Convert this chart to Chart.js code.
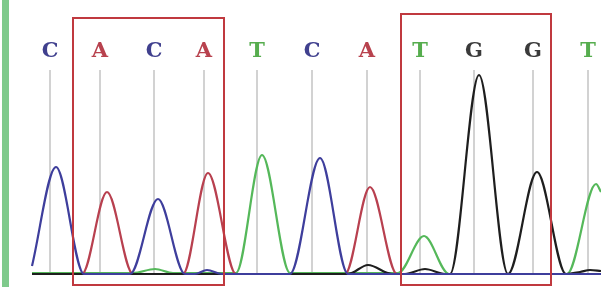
<!DOCTYPE html>
<html>
<head>
<meta charset="utf-8">
<script src="https://cdn.jsdelivr.net/npm/chart.js@4/dist/chart.umd.min.js"></script>
<style>
html,body{margin:0;padding:0;background:#fff;}
#wrap{position:relative;width:601px;height:287px;}
</style>
</head>
<body>
<div id="wrap"><canvas id="c"></canvas></div>
<script>
// Base calls
const baseLetters = ['C','A','C','A','T','C','A','T','G','G','T'];
const basePositions = [50,100,154,204,257,312,367,420,474,533,588];
// Highlighted regions (scan units)
const highlightStart = [73,401];
const highlightEnd = [224,551];

// Trace for C (blue)
const traceC_x = [32,56,84,130,158,185,195,207,222,290,320,348,601];
const traceC_y = [8,107,0,0,75,0,0,4,0,0,116,0,0];
// Trace for A (red)
const traceA_x = [32,82,107,133,183,208,236,345,370,397,601];
const traceA_y = [0,0,82,0,0,101,0,0,87,0,0];
// Trace for T (green)
const traceT_x = [32,133,155,173,236,262,290,398,424,449,567,596,601];
const traceT_y = [1,1,5,1,1,119,1,1,38,0,0,90,82];
// Trace for G (black)
const traceG_x = [32,348,368,392,405,425,445,450,479,508,537,566,580,590,601];
const traceG_y = [0,0,9,0,0,5,0,0,199,0,102,0,2,4,3];

const letterColors = {C:'#40408e',A:'#b8424e',T:'#56ad4e',G:'#3a3a3a'};

function pts(xs, ys){ return xs.map((x,i)=>({x:x,y:ys[i]})); }

const decor = {
  id:'decor',
  beforeDatasetsDraw(chart){
    const ctx = chart.ctx, xs = chart.scales.x, ys = chart.scales.y;
    ctx.save();
    ctx.fillStyle = '#7fca8c';
    ctx.fillRect(2,0,7,chart.height);
    ctx.strokeStyle = '#d2d2d2';
    ctx.lineWidth = 2;
    const yb = ys.getPixelForValue(0);
    basePositions.forEach(p=>{
      const x = Math.round(xs.getPixelForValue(p));
      ctx.beginPath(); ctx.moveTo(x,70); ctx.lineTo(x,yb); ctx.stroke();
    });
    ctx.restore();
  },
  afterDatasetsDraw(chart){
    const ctx = chart.ctx, xs = chart.scales.x;
    ctx.save();
    ctx.strokeStyle = '#c0393f';
    ctx.lineWidth = 2;
    const tops = [18,14];
    highlightStart.forEach((s,i)=>{
      const x1 = xs.getPixelForValue(s), x2 = xs.getPixelForValue(highlightEnd[i]);
      ctx.strokeRect(x1, tops[i], x2-x1, 285-tops[i]);
    });
    ctx.font = 'bold 21px "DejaVu Serif", serif';
    ctx.textAlign = 'center';
    ctx.textBaseline = 'middle';
    baseLetters.forEach((l,i)=>{
      ctx.fillStyle = letterColors[l];
      ctx.fillText(l, xs.getPixelForValue(basePositions[i]), 52);
    });
    ctx.restore();
  }
};

const common = {fill:false, pointRadius:0, borderWidth:2.2, cubicInterpolationMode:'monotone'};

new Chart(document.getElementById('c'), {
  type:'line',
  data:{
    datasets:[
      Object.assign({label:'C', data:pts(traceC_x,traceC_y), borderColor:'#3e3e9c'},common),
      Object.assign({label:'G', data:pts(traceG_x,traceG_y), borderColor:'#1e1e1e'},common),
      Object.assign({label:'A', data:pts(traceA_x,traceA_y), borderColor:'#b8404f'},common),
      Object.assign({label:'T', data:pts(traceT_x,traceT_y), borderColor:'#55b85a'},common)
    ]
  },
  options:{
    responsive:true,
    maintainAspectRatio:false,
    animation:false,
    layout:{padding:0},
    plugins:{legend:{display:false}, tooltip:{enabled:false}},
    scales:{
      x:{type:'linear', min:0, max:601, display:false},
      y:{type:'linear', min:-13, max:274, display:false}
    }
  },
  plugins:[decor]
});
</script>
</body>
</html>
